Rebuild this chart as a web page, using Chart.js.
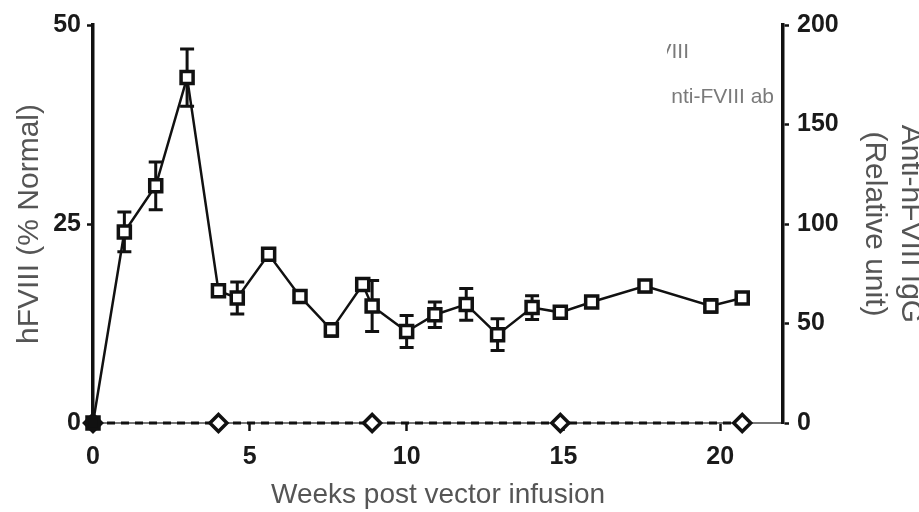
<!DOCTYPE html>
<html>
<head>
<meta charset="utf-8">
<script src="https://cdn.jsdelivr.net/npm/chart.js@4/dist/chart.umd.min.js"></script>
<style>
  html, body { margin: 0; padding: 0; background: #fff; }
  #wrap { width: 919px; height: 512px; }
</style>
</head>
<body>
<div id="wrap"><canvas id="c" width="919" height="512"></canvas></div>
<script>
// hFVIII activity (% of normal), mean with SEM, by week after infusion
const hfviiiWeeks = [0, 1, 2, 3, 4, 4.6, 5.6, 6.6, 7.6, 8.6, 8.9, 10, 10.9, 11.9, 12.9, 14, 14.9, 15.9, 17.6, 19.7, 20.7];
const hfviiiMean  = [0, 24.0, 29.8, 43.4, 16.6, 15.7, 21.2, 15.9, 11.7, 17.4, 14.7, 11.5, 13.6, 14.9, 11.1, 14.5, 13.9, 15.2, 17.2, 14.7, 15.7];
const hfviiiSem   = [0, 2.5, 3.0, 3.6, 0.6, 2.0, 0.7, 0.5, 0.8, 0.7, 3.2, 2.0, 1.6, 2.0, 2.0, 1.5, 0.5, 0.4, 0.7, 0.8, 0.4];

// Anti-hFVIII IgG (relative units)
const antibodyWeeks  = [0, 4, 8.9, 14.9, 20.7];
const antibodyValues = [0, 0, 0, 0, 0];

// Axis ticks
const xTicks      = [0, 5, 10, 15, 20];
const leftTicks   = [0, 25, 50];
const rightTicks  = [0, 50, 100, 150, 200];

const legendLabels = ['hFVIII', 'Anti-FVIII ab'];

const FONT = '"Liberation Sans", Arial, Helvetica, sans-serif';

const errorBars = {
  id: 'errorBars',
  beforeDatasetsDraw(chart) {
    const { ctx, scales: { x, y } } = chart;
    ctx.save();
    ctx.strokeStyle = '#111';
    ctx.lineWidth = 3;
    hfviiiWeeks.forEach((w, i) => {
      const e = hfviiiSem[i];
      if (!e) return;
      const px = x.getPixelForValue(w);
      const top = y.getPixelForValue(hfviiiMean[i] + e);
      const bot = y.getPixelForValue(hfviiiMean[i] - e);
      ctx.beginPath();
      ctx.moveTo(px, top); ctx.lineTo(px, bot);
      ctx.moveTo(px - 7, top); ctx.lineTo(px + 7, top);
      ctx.moveTo(px - 7, bot); ctx.lineTo(px + 7, bot);
      ctx.stroke();
    });
    ctx.restore();
  }
};

// Legend text, partly masked on its left side
const legendText = {
  id: 'legendText',
  afterDraw(chart) {
    const { ctx } = chart;
    const rows = [
      { text: legendLabels[0], right: 689, y: 52, clipX: 667 },
      { text: legendLabels[1], right: 774, y: 97, clipX: 671 }
    ];
    ctx.font = '21px ' + FONT;
    ctx.fillStyle = '#7a7a7a';
    ctx.textAlign = 'right';
    ctx.textBaseline = 'middle';
    rows.forEach(r => {
      ctx.save();
      ctx.beginPath();
      ctx.rect(r.clipX, r.y - 20, 200, 40);
      ctx.clip();
      ctx.fillText(r.text, r.right, r.y);
      ctx.restore();
    });
  }
};

const tickFont = { family: FONT, size: 25, weight: 'bold' };

new Chart(document.getElementById('c'), {
  type: 'line',
  data: {
    datasets: [
      {
        label: legendLabels[0],
        data: hfviiiWeeks.map((w, i) => ({ x: w, y: hfviiiMean[i] })),
        yAxisID: 'y',
        borderColor: '#111',
        borderWidth: 2.5,
        pointStyle: 'rect',
        pointRadius: 8.5,
        pointBorderWidth: 3.5,
        pointBorderColor: '#111',
        pointBackgroundColor: hfviiiWeeks.map((w, i) => i === 0 ? '#111' : '#fff'),
        tension: 0,
        clip: false
      },
      {
        label: legendLabels[1],
        data: antibodyWeeks.map((w, i) => ({ x: w, y: antibodyValues[i] })),
        yAxisID: 'y1',
        borderColor: '#111',
        borderWidth: 3,
        borderDash: [8, 6],
        pointStyle: 'rectRot',
        pointRadius: 8.5,
        pointBorderWidth: 3.5,
        pointBorderColor: '#111',
        pointBackgroundColor: '#fff',
        tension: 0,
        clip: false
      }
    ]
  },
  options: {
    responsive: false,
    animation: false,
    devicePixelRatio: 1,
    layout: { padding: { left: 0, right: 0, top: 25, bottom: 0 } },
    plugins: { legend: { display: false }, tooltip: { enabled: false } },
    scales: {
      x: {
        type: 'linear',
        min: 0, max: 22,
        afterBuildTicks(s) { s.ticks = xTicks.map(v => ({ value: v })); },
        afterFit(s) { s.height = 89; },
        ticks: { font: tickFont, color: '#1a1a1a', padding: 11 },
        grid: { drawOnChartArea: false, tickLength: 8, tickWidth: 2.5, tickColor: '#111' },
        border: { color: '#777', width: 2 },
        title: {
          display: true, text: 'Weeks post vector infusion',
          font: { family: FONT, size: 28 }, color: '#555',
          padding: { top: 0, bottom: 0 }
        }
      },
      y: {
        type: 'linear', position: 'left',
        min: 0, max: 50,
        afterBuildTicks(s) { s.ticks = leftTicks.map(v => ({ value: v })); },
        afterFit(s) { s.width = 93; },
        ticks: { font: tickFont, color: '#1a1a1a', padding: 6 },
        grid: { drawOnChartArea: false, tickLength: 6, tickWidth: 2.5, tickColor: '#111' },
        border: { color: '#111', width: 3.5 },
        title: {
          display: true, text: 'hFVIII (% Normal)',
          font: { family: FONT, size: 30 }, color: '#555',
          padding: { top: 12, bottom: 0 }
        }
      },
      y1: {
        type: 'linear', position: 'right',
        min: 0, max: 200,
        afterBuildTicks(s) { s.ticks = rightTicks.map(v => ({ value: v })); },
        afterFit(s) { s.width = 136; },
        ticks: { font: tickFont, color: '#1a1a1a', padding: 8 },
        grid: { drawOnChartArea: false, tickLength: 6, tickWidth: 2.5, tickColor: '#111' },
        border: { color: '#111', width: 3.5 },
        title: {
          display: true, text: ['Anti-hFVIII IgG', '(Relative unit)'],
          font: { family: FONT, size: 30 }, color: '#555',
          padding: { top: -9, bottom: 0 }
        }
      }
    }
  },
  plugins: [errorBars, legendText]
});
</script>
</body>
</html>
